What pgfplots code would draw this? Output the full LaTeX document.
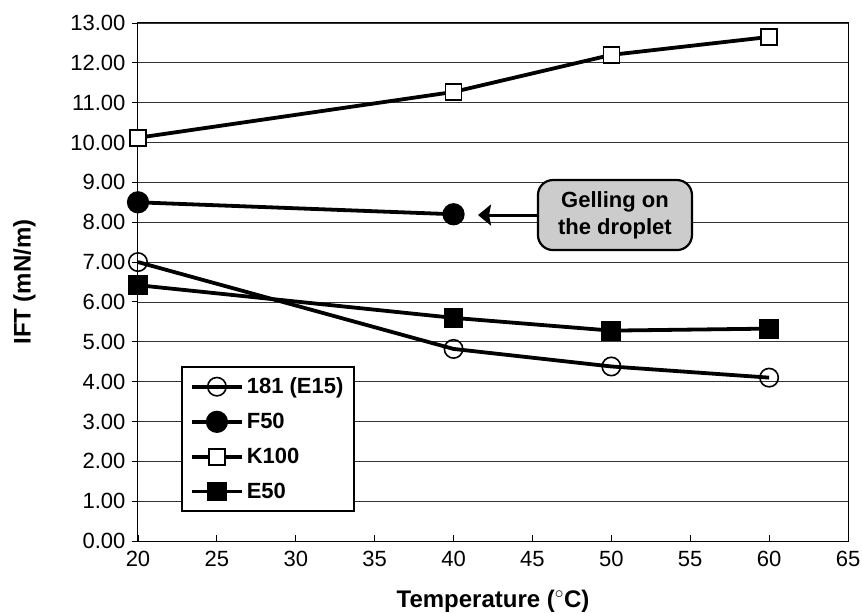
\documentclass[border=0pt]{standalone}
\usepackage{pgfplots}
\pgfplotsset{compat=1.18}
\usepackage{fontspec}
\setmainfont{Liberation Sans}
\usetikzlibrary{arrows.meta}
\definecolor{boxgray}{HTML}{CCCCCC}
\begin{document}
\begin{tikzpicture}
\begin{axis}[
  scale only axis, width=710pt, height=518pt,
  xmin=20, xmax=65, ymin=0, ymax=13,
  xtick={20,25,...,65}, ytick={0,1,...,13},
  /pgf/number format/assume math mode=true,
  yticklabel style={xshift=-9pt, /pgf/number format/fixed, /pgf/number format/fixed zerofill, /pgf/number format/precision=2},
  ticklabel style={font=\fontsize{22}{25}\selectfont},
  xticklabel style={yshift=-7pt},
  xtick pos=bottom, ytick pos=left,
  tick align=inside, major tick length=6pt,
  ytick style={xshift=-6pt, black, line width=0.9pt},
  xtick style={black, line width=0.9pt},
  ymajorgrids, grid style={black!80, line width=0.8pt},
  axis line style={line width=1pt},
  xlabel={\textbf{Temperature ($^\circ$C)}},
  ylabel={\textbf{IFT (mN/m)}},
  label style={font=\fontsize{24}{28}\selectfont},
  xlabel style={yshift=-16pt},
  ylabel style={yshift=28pt},
  legend style={at={(0.0606,0.056)}, anchor=south west, draw=black, line width=2pt,
    font=\fontsize{22}{25}\selectfont\bfseries, row sep=14pt, inner xsep=8pt, inner ysep=9pt,
    nodes={inner xsep=3pt}},
  legend cell align=left,
  legend image code/.code={\draw[#1, mark repeat=2, mark phase=2] plot coordinates {(0pt,0pt)(25pt,0pt)(50pt,0pt)};},
]
\addplot[black, line width=3.8pt, mark=o, mark size=9.2pt, mark options={fill=white, line width=1.6pt, solid}]
  coordinates {(20,7.00) (40,4.82) (50,4.38) (60,4.10)};
\addlegendentry{181 (E15)}
\addplot[black, line width=3.8pt, mark=*, mark size=9.2pt, mark options={fill=black, solid}]
  coordinates {(20,8.50) (40,8.20)};
\addlegendentry{F50}
\addplot[black, line width=3.8pt, mark=square*, mark size=8pt, mark options={fill=white, line width=1.6pt, solid}]
  coordinates {(20,10.12) (40,11.27) (50,12.20) (60,12.65)};
\addlegendentry{K100}
\addplot[black, line width=3.8pt, mark=square*, mark size=8pt, mark options={fill=black, solid}]
  coordinates {(20,6.42) (40,5.60) (50,5.28) (60,5.33)};
\addlegendentry{E50}
\draw[line width=3pt, -{Stealth[length=13pt,width=21pt,inset=2pt]}] (axis cs:45.4,8.18) -- (axis cs:41.55,8.18);
\node[draw=black, line width=2.2pt, rounded corners=15pt, fill=boxgray, align=center,
  minimum width=154pt, minimum height=70pt, inner sep=4pt,
  font=\fontsize{22}{27}\selectfont\bfseries] at (axis cs:50.23,8.18) {Gelling on\\the droplet};
\end{axis}
\pgfresetboundingbox
\path (current axis.south west) ++(-138pt,-72pt) rectangle ++(862pt,613pt);
\end{tikzpicture}
\end{document}
